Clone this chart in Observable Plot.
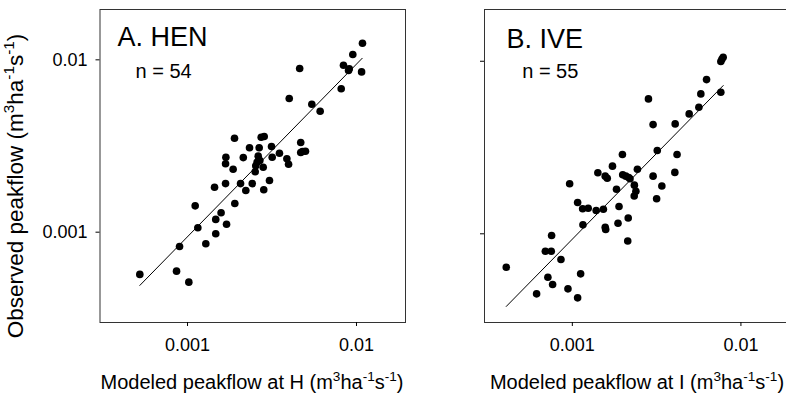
<!DOCTYPE html>
<html><head><meta charset="utf-8">
<script src="https://cdn.jsdelivr.net/npm/d3@7"></script>
<script src="https://cdn.jsdelivr.net/npm/@observablehq/plot@0.6"></script>
<style>
html,body{margin:0;padding:0;background:#fff;overflow:hidden;}
#wrap{position:relative;width:786px;height:398px;overflow:hidden;font-family:"Liberation Sans",Arial,sans-serif;}
#wrap svg{position:absolute;top:0;}
</style></head><body><div id="wrap"></div>
<script>
// Panel A: HEN
const henModeled = [5.22e-4,8.61e-4,1.018e-3,8.97e-4,1.151e-3,1.11e-3,1.283e-3,1.469e-3,1.469e-3,1.58e-3,1.702e-3,1.445e-3,1.679e-3,1.905e-3,1.679e-3,1.687e-3,1.862e-3,1.897e-3,2.138e-3,2.06e-3,2.213e-3,2.328e-3,2.415e-3,2.655e-3,2.62e-3,2.68e-3,2.729e-3,2.843e-3,2.535e-3,2.515e-3,2.805e-3,2.826e-3,3.055e-3,3.141e-3,3.17e-3,3.5e-3,3.873e-3,3.963e-3,3.999e-3,4.61e-3,4.677e-3,4.677e-3,4.989e-3,5.44e-3,6.095e-3,8.12e-3,8.375e-3,8.97e-3,9.06e-3,9.51e-3,1.072e-2,1.085e-2,2.582e-3,4.79e-3];
const henObserved = [5.69e-4,5.94e-4,5.13e-4,8.26e-4,1.061e-3,1.422e-3,8.57e-4,9.79e-4,1.186e-3,1.297e-3,1.112e-3,1.824e-3,1.914e-3,1.466e-3,2.494e-3,2.723e-3,2.317e-3,3.508e-3,2.708e-3,1.914e-3,1.746e-3,3.09e-3,1.914e-3,3.09e-3,2.761e-3,2.606e-3,3.556e-3,3.589e-3,2.427e-3,2.241e-3,2.383e-3,1.762e-3,1.995e-3,3.141e-3,2.723e-3,2.871e-3,2.667e-3,2.477e-3,5.96e-3,8.90e-3,3.311e-3,2.897e-3,2.951e-3,5.527e-3,5.035e-3,6.79e-3,9.31e-3,8.67e-3,8.87e-3,1.074e-2,8.51e-3,1.247e-2,2.547e-3,2.94e-3];
const henFitModeled = [5.22e-4, 1.081e-2];
const henFitObserved = [4.91e-4, 1.021e-2];

// Panel B: IVE
const iveModeled = [4.055e-4,6.138e-4,7.161e-4,7.638e-4,6.918e-4,7.5e-4,7.534e-4,8.56e-4,9.42e-4,1.075e-3,1.12e-3,9.64e-4,1.075e-3,1.151e-3,1.242e-3,1.156e-3,1.385e-3,1.528e-3,1.567e-3,1.577e-3,1.417e-3,1.567e-3,1.611e-3,1.73e-3,1.828e-3,1.892e-3,1.866e-3,1.982e-3,1.99e-3,2.075e-3,2.198e-3,2.145e-3,2.131e-3,2.333e-3,2.382e-3,2.328e-3,2.432e-3,2.828e-3,3.013e-3,3.013e-3,3.19e-3,3.162e-3,3.396e-3,4.055e-3,4.074e-3,4.18e-3,4.932e-3,5.63e-3,5.784e-3,6.253e-3,7.6e-3,7.6e-3,7.846e-3,7.71e-3,2.16e-3];
const iveObserved = [6.405e-4,4.487e-4,5.604e-4,5.08e-4,7.925e-4,7.925e-4,9.77e-4,7.1e-4,4.797e-4,4.256e-4,5.86e-4,1.95e-3,1.518e-3,1.396e-3,1.406e-3,1.127e-3,1.365e-3,1.388e-3,1.092e-3,1.059e-3,2.259e-3,2.158e-3,2.099e-3,2.466e-3,1.811e-3,1.439e-3,1.151e-3,2.88e-3,2.198e-3,2.158e-3,2.084e-3,1.236e-3,9.08e-4,1.914e-3,1.762e-3,1.656e-3,2.366e-3,6.05e-3,4.295e-3,2.158e-3,3.04e-3,1.596e-3,1.892e-3,2.27e-3,4.335e-3,2.88e-3,4.955e-3,5.414e-3,6.47e-3,7.83e-3,6.613e-3,9.96e-3,1.055e-2,1.027e-2,2.118e-3];
const iveFitModeled = [4.055e-4, 7.85e-3];
const iveFitObserved = [3.793e-4, 7.23e-3];

const tickValues = [0.001, 0.01];
const tickLabels = ["0.001", "0.01"];
const panelTitles = ["A. HEN", "B. IVE"];
const panelCounts = ["n = 54", "n = 55"];
const yTitle = [["Observed peakflow (m", false], ["3", true], ["ha", false], ["-1", true], ["s", false], ["-1", true], [")", false]];
const xTitleA = [["Modeled peakflow at H (m", false], ["3", true], ["ha", false], ["-1", true], ["s", false], ["-1", true], [")", false]];
const xTitleB = [["Modeled peakflow at I (m", false], ["3", true], ["ha", false], ["-1", true], ["s", false], ["-1", true], [")", false]];

const FONT = "Liberation Sans, Arial, Helvetica, sans-serif";
const fmt = d => tickLabels[tickValues.indexOf(d)];

function panel(o) {
  const pts = o.x.map((x, i) => ({x, y: o.y[i]}));
  const fit = o.fx.map((x, i) => ({x, y: o.fy[i]}));
  return Plot.plot({
    width: o.width, height: 398,
    marginLeft: o.ml, marginRight: o.mr, marginTop: 9, marginBottom: 76,
    style: {fontFamily: FONT, fontSize: "18px", color: "#000", background: "transparent", overflow: "visible"},
    x: {type: "log", domain: o.xd},
    y: {type: "log", domain: o.yd},
    marks: [
      Plot.frame({stroke: "#333"}),
      Plot.axisX({ticks: tickValues, tickFormat: fmt, tickSize: 4, tickPadding: 12, label: null, fontSize: 18}),
      Plot.axisY({ticks: tickValues, tickFormat: o.yLabels ? fmt : () => "", tickSize: 4, tickPadding: 8.5, label: null, fontSize: 18}),
      Plot.line(fit, {x: "x", y: "y", stroke: "#000", strokeWidth: 1}),
      Plot.dot(pts, {x: "x", y: "y", r: 3.8, fill: "#000", stroke: "none"}),
      Plot.text([o.title], {frameAnchor: "top-left", textAnchor: "start", lineAnchor: "top", dx: o.tdx, dy: o.tdy, fontSize: 27, fill: "#000"}),
      Plot.text([o.count], {frameAnchor: "top-left", textAnchor: "start", lineAnchor: "top", dx: o.cdx, dy: o.cdy, fontSize: 20, fill: "#000"})
    ]
  });
}

function addTitle(svg, x, y, rot, parts, size) {
  const t = d3.select(svg).append("text")
    .attr("text-anchor", "middle")
    .attr("font-family", FONT)
    .attr("font-size", size)
    .attr("fill", "#000")
    .attr("transform", `translate(${x},${y}) rotate(${rot})`);
  let shifted = false;
  parts.forEach(([s, sup]) => {
    const ts = t.append("tspan").text(s);
    if (sup && !shifted) { ts.attr("dy", -size * 0.42).attr("font-size", size * 0.68); shifted = true; }
    else if (sup) { ts.attr("font-size", size * 0.68); }
    else if (!sup && shifted) { ts.attr("dy", size * 0.42); shifted = false; }
  });
  return t;
}

const wrap = document.getElementById("wrap");
const a = panel({x: henModeled, y: henObserved, fx: henFitModeled, fy: henFitObserved,
  width: 440, ml: 99.5, mr: 35, xd: [3.034e-4, 1.95e-2], yd: [2.992e-4, 1.959e-2], yLabels: true,
  title: panelTitles[0], count: panelCounts[0], tdx: 17.5, tdy: 17.7, cdx: 35.5, cdy: 54.3});
a.style.left = "0px";
wrap.appendChild(a);
addTitle(a, 23, 186, -90, yTitle, 22.5);
addTitle(a, 252, 389, 0, xTitleA, 20);

const b = panel({x: iveModeled, y: iveObserved, fx: iveFitModeled, fy: iveFitObserved,
  width: 350, ml: 44, mr: 0, xd: [3.013e-4, 1.968e-2], yd: [3.062e-4, 1.995e-2], yLabels: false,
  title: panelTitles[1], count: panelCounts[1], tdx: 22, tdy: 19.3, cdx: 37.7, cdy: 54.3});
b.style.left = "440px";
wrap.appendChild(b);
addTitle(b, 197, 389, 0, xTitleB, 20);
</script></body></html>
